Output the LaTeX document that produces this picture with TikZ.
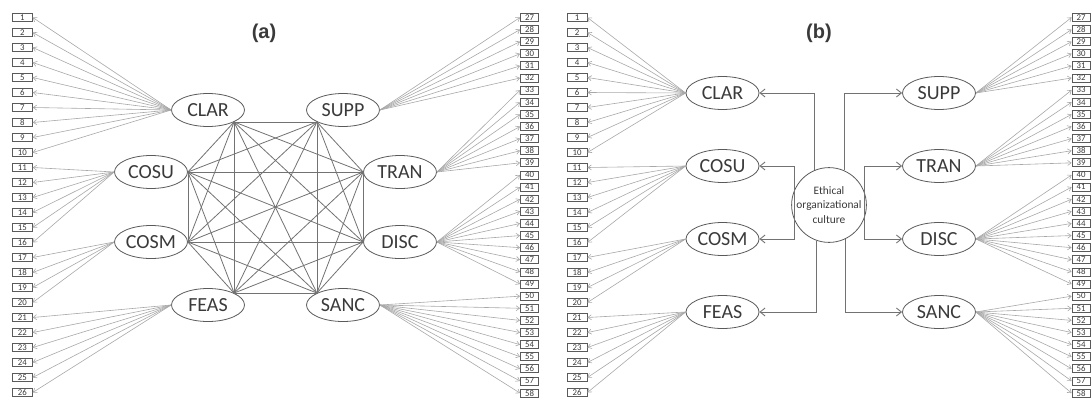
\documentclass[tikz,border=0pt]{standalone}
\usepackage{fontspec}
\setmainfont{Carlito}
\newfontfamily\titlefont{Liberation Sans}
\usetikzlibrary{arrows.meta,shapes.geometric}
\definecolor{linegray}{HTML}{A8A8A8}
\definecolor{edgegray}{HTML}{727272}
\definecolor{bordergray}{HTML}{5A5A5A}
\definecolor{textgray}{HTML}{3A3A3A}
\begin{document}
\begin{tikzpicture}[x=1pt,y=-1pt,
  lbox/.style={draw=bordergray, line width=0.8pt, fill=white, minimum width=20pt, minimum height=8.5pt, inner sep=0pt, font=\fontsize{8.8}{8.8}\selectfont, text=textgray},
  rbox/.style={lbox, minimum width=18pt, minimum height=8pt},
  factor/.style={ellipse, draw=bordergray, line width=0.8pt, minimum width=73pt, minimum height=33pt, inner sep=0pt, font=\fontsize{20}{20}\selectfont, text=textgray},
  load/.style={draw=linegray, line width=0.6pt, -{Straight Barb[length=3.5pt,width=5pt]}},
  corr/.style={draw=edgegray, line width=0.8pt},
  orth/.style={draw=edgegray, line width=0.9pt, -{Straight Barb[length=5pt,width=8pt]}},
  ttl/.style={font=\titlefont\bfseries\fontsize{20}{20}\selectfont, text=textgray}
]
\useasboundingbox (0,0) rectangle (1091,399);

% titles
\node[ttl] (ta) at (264,33) {(a)};
\node[ttl] (tb) at (819,33) {(b)};

% item boxes
\foreach \i in {1,...,26} {
  \pgfmathsetmacro\yy{17.5+15*(\i-1)}
  \node[lbox] (a\i) at (22.3,\yy) {\i};
  \node[lbox] (b\i) at (577,\yy) {\i};
}
\foreach \j in {27,...,58} {
  \pgfmathsetmacro\yy{17.4+12.12*(\j-27)}
  \node[rbox] (a\j) at (529.5,\yy) {\j};
  \node[rbox] (b\j) at (1081,\yy) {\j};
}

% factors panel (a)
\node[factor] (aCLAR) at (208,110) {CLAR};
\node[factor] (aCOSU) at (151,172) {COSU};
\node[factor] (aCOSM) at (151,242) {COSM};
\node[factor] (aFEAS) at (208,305) {FEAS};
\node[factor] (aSUPP) at (343,110) {SUPP};
\node[factor] (aTRAN) at (400,172) {TRAN};
\node[factor] (aDISC) at (400,242) {DISC};
\node[factor] (aSANC) at (343,305) {SANC};

% factors panel (b)
\node[factor] (bCLAR) at (722.5,93) {CLAR};
\node[factor] (bCOSU) at (722.5,166) {COSU};
\node[factor] (bCOSM) at (722.5,239) {COSM};
\node[factor] (bFEAS) at (722.5,312) {FEAS};
\node[factor] (bSUPP) at (939,93) {SUPP};
\node[factor] (bTRAN) at (939,166) {TRAN};
\node[factor] (bDISC) at (939,239) {DISC};
\node[factor] (bSANC) at (939,312) {SANC};

\node[circle, draw=bordergray, line width=0.8pt, minimum size=74pt, inner sep=0pt, align=center,
      font=\fontsize{11.4}{14.5}\selectfont, text=textgray] (circ) at (829,205) {Ethical\\organizational\\culture};

% loadings
\foreach \f/\s/\e in {CLAR/1/10, COSU/11/16, COSM/17/20, FEAS/21/26} {
  \foreach \k in {\s,...,\e} {
    \draw[load] (a\f.west) -- (a\k.east);
    \draw[load] (b\f.west) -- (b\k.east);
  }
}
\foreach \f/\s/\e in {SUPP/27/32, TRAN/33/39, DISC/40/49, SANC/50/58} {
  \foreach \k in {\s,...,\e} {
    \draw[load] (a\f.east) -- (a\k.west);
    \draw[load] (b\f.east) -- (b\k.west);
  }
}

% correlations panel (a)
\coordinate (k1) at (aCLAR.south east);
\coordinate (k2) at (aSUPP.south west);
\coordinate (k3) at (aTRAN.west);
\coordinate (k4) at (aDISC.west);
\coordinate (k5) at (aSANC.north west);
\coordinate (k6) at (aFEAS.north east);
\coordinate (k7) at (aCOSM.east);
\coordinate (k8) at (aCOSU.east);
\foreach \m in {1,...,7} {
  \pgfmathtruncatemacro\st{\m+1}
  \foreach \n in {\st,...,8} {
    \draw[corr] (k\m) -- (k\n);
  }
}

% second-order paths panel (b)
\coordinate (lb) at ([xshift=3pt]circ.west);
\coordinate (rb) at ([xshift=-2pt]circ.east);
\draw[orth] (lb) |- (bCOSU.east);
\draw[orth] (lb) |- (bCOSM.east);
\draw[orth] (rb) |- (bTRAN.west);
\draw[orth] (rb) |- (bDISC.west);
\draw[orth] (circ.112) |- (bCLAR.east);
\draw[orth] (circ.66) |- (bSUPP.west);
\draw[orth] (circ.251) |- (bFEAS.east);
\draw[orth] (circ.296) |- (bSANC.west);
\end{tikzpicture}
\end{document}
